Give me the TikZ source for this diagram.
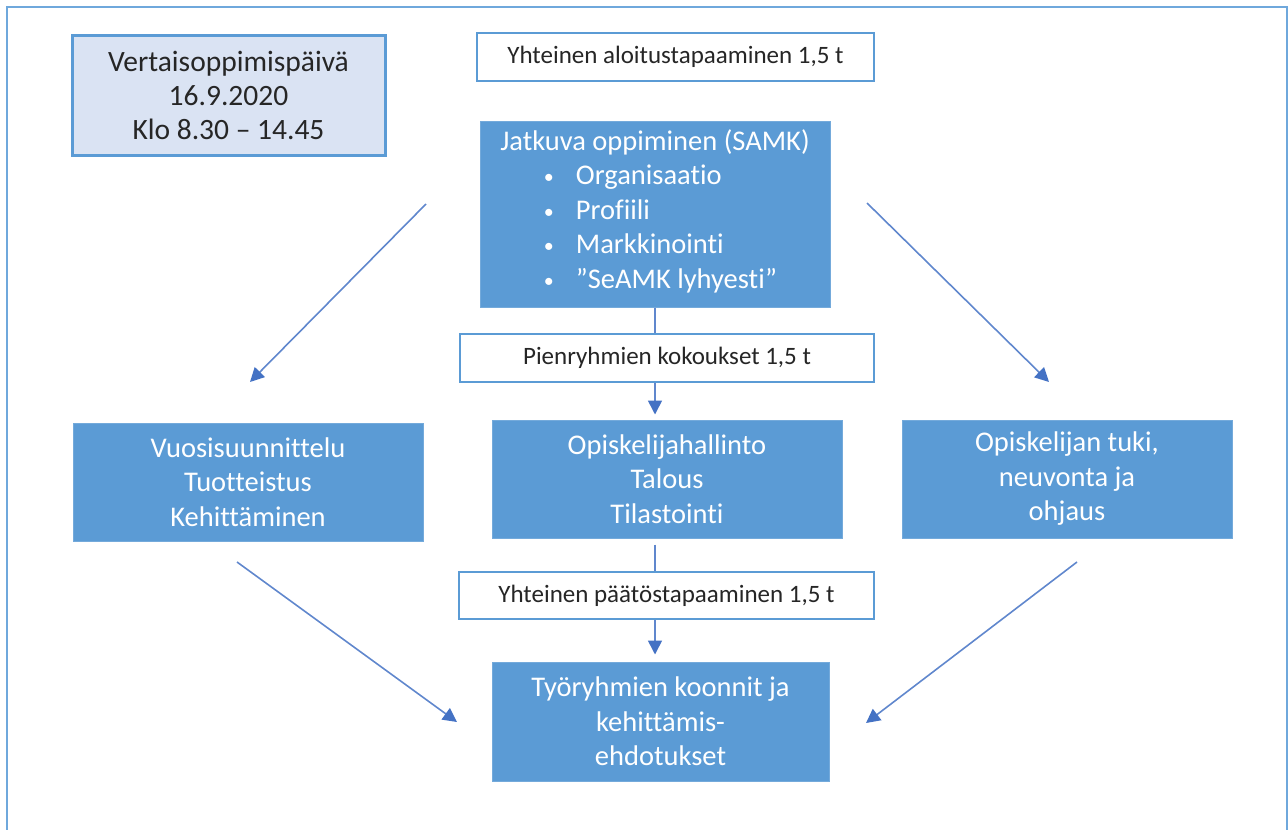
\documentclass[tikz,border=0pt]{standalone}
\usepackage{fontspec}
\setmainfont{Carlito}[Ligatures=NoCommon]
\usetikzlibrary{positioning, arrows.meta}
\tikzstyle{pixelGrid} = [x = 1pt, y = -1pt]
\definecolor{boxColor}{RGB}{91,155,213}
\definecolor{arrowColor}{RGB}{68,114,196}
\definecolor{dateColor}{RGB}{218,227,243}
\definecolor{frameColor}{RGB}{111,168,220}
\definecolor{textColor}{RGB}{38,38,38}
\newcommand{\bigText}{\fontsize{28.5}{34.5}\selectfont}
\newcommand{\dateText}{\fontsize{29.5}{34}\selectfont}
\newcommand{\smallText}{\fontsize{25}{30}\selectfont}
\newcommand{\listBullet}{\raisebox{1pt}{\fontsize{20}{20}\selectfont\textbullet}}
\tikzstyle{frameLine} = [color=frameColor, line width=2.5pt]
\tikzstyle{filledBox} = [fill=boxColor, draw=boxColor!85!white, line width=1pt, text=white, font=\bigText, align=center, inner sep=0pt]
\tikzstyle{meetingBox} = [fill=white, draw=boxColor, line width=2.5pt, text=textColor, font=\smallText, align=center, inner sep=0pt]
\tikzstyle{dateBox} = [fill=dateColor, draw=boxColor, line width=3pt, text=textColor, font=\dateText, align=center, inner sep=0pt]
\tikzstyle{flowLine} = [color=arrowColor!85!white, line width=1.6pt]
\tikzstyle{flowArrowStyle} = [flowLine, -{Triangle[length=14pt, width=14pt, color=arrowColor]}]
\newcommand{\flowArrow}[2]{\draw [flowArrowStyle] (#1) -- (#2);}

\begin{document}
\begin{tikzpicture}[pixelGrid]
      \useasboundingbox (0,0) rectangle (1288,830);
      \clip (0,0) rectangle (1288,830);
      \draw [frameLine] (7,7) rectangle (1287,860);

      \node [dateBox, minimum width=313, minimum height=120] (paiva) at (228.5,95)
        {Vertaisoppimispäivä\\16.9.2020\\Klo 8.30 – 14.45};
      \node [meetingBox, minimum width=397, minimum height=48] (aloitus) at (675.5,57)
        {Yhteinen aloitustapaaminen 1,5 t};
      \node [filledBox, minimum width=350, minimum height=186] (jatkuva) at (655,214)
        {Jatkuva oppiminen (SAMK)\\
         \begin{tabular}[t]{@{\hspace{11pt}}l@{\hspace{22pt}}l@{}}
           \listBullet & Organisaatio\\
           \listBullet & Profiili\\
           \listBullet & Markkinointi\\
           \listBullet & ”SeAMK lyhyesti”
         \end{tabular}};
      \node [meetingBox, minimum width=414, minimum height=48] (pienryhmat) at (667,358)
        {Pienryhmien kokoukset 1,5 t};
      \node [filledBox, minimum width=350, minimum height=118] (vuosi) at (248,482)
        {Vuosisuunnittelu\\Tuotteistus\\Kehittäminen};
      \node [filledBox, minimum width=350, minimum height=118] (hallinto) at (667,479)
        {Opiskelijahallinto\\Talous\\Tilastointi};
      \node [filledBox, minimum width=330, minimum height=118] (tuki) at (1067,479)
        {Opiskelijan tuki,\\neuvonta ja\\ohjaus};
      \node [meetingBox, minimum width=415, minimum height=47] (paatos) at (666.5,595.5)
        {Yhteinen päätöstapaaminen 1,5 t};
      \node [filledBox, minimum width=337, minimum height=119] (koonnit) at (660.5,721.5)
        {Työryhmien koonnit ja\\kehittämis-\\ehdotukset};

      \coordinate (vuosiStart) at (426,204);
      \coordinate (vuosiEnd) at (250,382);
      \coordinate (tukiStart) at (867,203);
      \coordinate (tukiEnd) at (1049,382);
      \coordinate (koonnitLeftStart) at (237,562);
      \coordinate (koonnitLeftEnd) at (457,722);
      \coordinate (koonnitRightStart) at (1077,562);
      \coordinate (koonnitRightEnd) at (866,723);

      \draw [flowLine] (jatkuva.south) -- (jatkuva.south |- pienryhmat.north);
      \draw [flowArrowStyle, shorten >= 5pt] (jatkuva |- pienryhmat.south) -- (jatkuva |- hallinto.north);
      \draw [flowLine, shorten <= 6pt] (jatkuva |- hallinto.south) -- (jatkuva |- paatos.north);
      \draw [flowArrowStyle, shorten >= 7pt] (jatkuva |- paatos.south) -- (jatkuva |- koonnit.north);

      \flowArrow{vuosiStart}{vuosiEnd}
      \flowArrow{tukiStart}{tukiEnd}
      \flowArrow{koonnitLeftStart}{koonnitLeftEnd}
      \flowArrow{koonnitRightStart}{koonnitRightEnd}
    \end{tikzpicture}
\end{document}
